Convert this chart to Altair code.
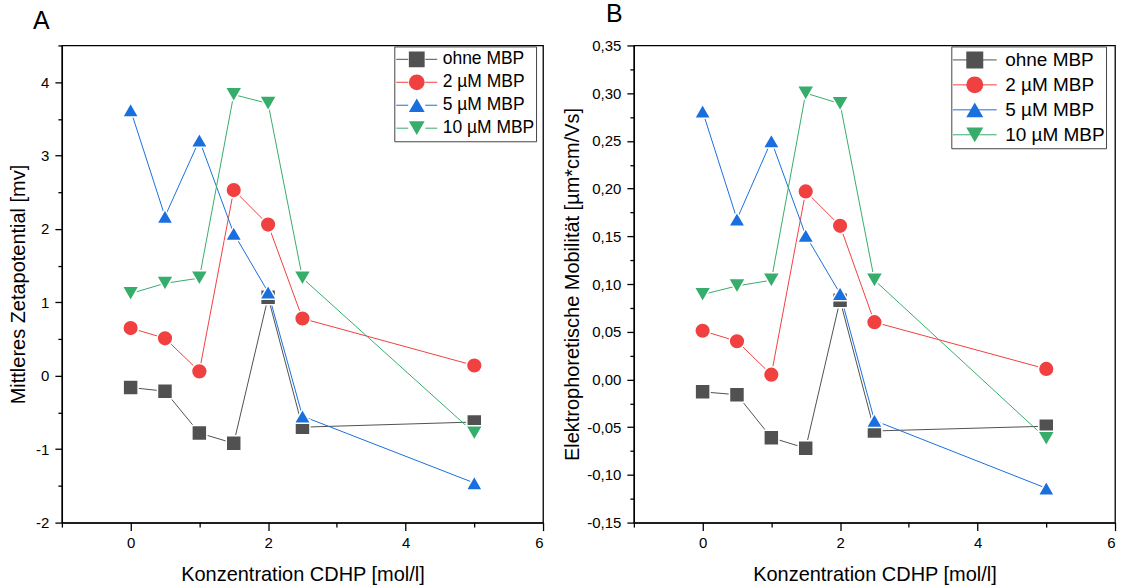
import altair as alt
import pandas as pd

# ---------------- data ----------------
conc = [0, 0.5, 1, 1.5, 2, 2.5, 5]
series = ["ohne MBP", "\u00a02 µM MBP", "\u00a05 µM MBP", "10 µM MBP"]
colors = ["#515151", "#F14040", "#1A6FDF", "#37AD6B"]
shapes = ["square", "circle", "triangle-up", "triangle-down"]
marker_sizes = [225, 289, 330, 370]

# Panel A: Mittleres Zetapotential [mv]
zeta_ohne = [-0.16, -0.21, -0.78, -0.92, 1.07, -0.70, -0.63]
zeta_2 = [0.65, 0.51, 0.06, 2.53, 2.06, 0.78, 0.14]
zeta_5 = [3.62, 2.17, 3.21, 1.94, 1.14, -0.55, -1.46]
zeta_10 = [1.12, 1.26, 1.33, 3.83, 3.71, 1.33, -0.78]

# Panel B: Elektrophoretische Mobilität [µm*cm/Vs]
mob_ohne = [-0.013, -0.016, -0.061, -0.072, 0.083, -0.054, -0.049]
mob_2 = [0.051, 0.040, 0.005, 0.197, 0.161, 0.060, 0.011]
mob_5 = [0.281, 0.168, 0.250, 0.151, 0.090, -0.043, -0.114]
mob_10 = [0.089, 0.098, 0.104, 0.300, 0.289, 0.104, -0.062]

x_major_ticks = [0, 2, 4, 6]
x_minor_ticks = [-1, 1, 3, 5]
zeta_major = [-2, -1, 0, 1, 2, 3, 4]
zeta_minor = [-1.5, -0.5, 0.5, 1.5, 2.5, 3.5, 4.5]
mob_major = [-0.15, -0.10, -0.05, 0.0, 0.05, 0.10, 0.15, 0.20, 0.25, 0.30, 0.35]
mob_minor = [-0.125, -0.075, -0.025, 0.025, 0.075, 0.125, 0.175, 0.225, 0.275, 0.325]

FONT = "Liberation Sans"
MINUS = "\u2212"


def make_df(vals_list):
    rows = []
    for i, (name, vals) in enumerate(zip(series, vals_list)):
        for x, v in zip(conc, vals):
            rows.append({"conc": x, "value": v, "series": name, "key": name,
                         "skey": name, "order": i})
    return pd.DataFrame(rows)


def panel(df, letter, letter_dx, y_domain, y_major, y_minor, y_title, y_label_expr,
          y_title_pad, leg):
    xs = alt.Scale(domain=[-1, 6], nice=False, zero=False)
    ys = alt.Scale(domain=y_domain, nice=False, zero=False)
    sort_s = alt.EncodingSortField(field="order", op="min")

    x_axis = alt.Axis(orient="bottom", values=x_major_ticks, tickSize=8, labelPadding=5,
                      title="Konzentration CDHP [mol/l]", titlePadding=14, grid=False)
    y_axis = alt.Axis(orient="left", values=y_major, tickSize=7, labelPadding=6,
                      labelExpr=y_label_expr, title=y_title, titlePadding=y_title_pad,
                      grid=False)
    x_minor_axis = alt.Axis(orient="bottom", values=x_minor_ticks, tickSize=4.5,
                            labels=False, domain=False, title=None, grid=False)
    y_minor_axis = alt.Axis(orient="left", values=y_minor, tickSize=4,
                            labels=False, domain=False, title=None, grid=False)

    stroke_legend = alt.Legend(
        title=None, orient="none", legendX=leg["x"], legendY=leg["y"],
        symbolType="stroke", symbolSize=leg["line"] ** 2, symbolStrokeWidth=1,
        symbolDash=leg["dash"], clipHeight=leg["row"], rowPadding=0,
        padding=leg["pad"], strokeColor="#444444",
        labelFontSize=leg["font"], labelFont=FONT, labelColor="black",
        labelOffset=leg["label_off"], labelLimit=300,
    )
    shape_legend = alt.Legend(
        title=None, orient="none", legendX=leg["x"], legendY=leg["y"],
        symbolSize=leg["sym"], symbolStrokeColor="white", symbolStrokeWidth=1.5,
        symbolOpacity=1, clipHeight=leg["row"], rowPadding=0, padding=leg["pad"],
        symbolOffset=leg["sym_off"],
        labelFontSize=leg["font"], labelFont=FONT, labelExpr="''",
        labelOffset=leg["label_off"],
    )

    lines = alt.Chart(df).mark_line(strokeWidth=1).encode(
        x=alt.X("conc:Q", scale=xs, axis=x_axis),
        y=alt.Y("value:Q", scale=ys, axis=y_axis),
        stroke=alt.Stroke("series:N", sort=sort_s, scale=alt.Scale(range=colors),
                          legend=stroke_legend),
        order=alt.Order("conc:Q"),
    )
    pts = alt.Chart(df).mark_point(filled=True, opacity=1, stroke="white",
                                   strokeWidth=1.5).encode(
        x=alt.X("conc:Q", scale=xs, axis=x_minor_axis),
        y=alt.Y("value:Q", scale=ys, axis=y_minor_axis),
        fill=alt.Fill("key:N", sort=sort_s, scale=alt.Scale(range=colors),
                      legend=shape_legend),
        shape=alt.Shape("key:N", sort=sort_s, scale=alt.Scale(range=shapes),
                        legend=shape_legend),
        size=alt.Size("skey:O", sort=sort_s, scale=alt.Scale(range=marker_sizes),
                      legend=None),
    )
    return alt.layer(lines, pts).resolve_axis(x="independent", y="independent").properties(
        width=482, height=478,
        title=alt.TitleParams(letter, anchor="start", frame="group", dx=letter_dx,
                              fontSize=25, font=FONT, fontWeight="normal", color="black",
                              offset=11),
    )


df_a = make_df([zeta_ohne, zeta_2, zeta_5, zeta_10])
df_b = make_df([mob_ohne, mob_2, mob_5, mob_10])

leg_a = {"x": 333, "y": 1, "line": 41, "dash": [12, 17], "row": 22.8, "pad": 1.5,
         "font": 17.5, "label_off": 5, "sym": 250, "sym_off": 12}
leg_b = {"x": 318, "y": 1, "line": 44, "dash": [44, 0.01], "row": 25, "pad": 1,
         "font": 19, "label_off": 8, "sym": 289, "sym_off": 13}

expr_a = f"replace(format(datum.value, 'd'), '{MINUS}', '-')"
expr_b = f"replace(replace(format(datum.value, '.2f'), '.', ','), '{MINUS}', '-')"

left = panel(df_a, "A", -29, [-2, 4.5], zeta_major, zeta_minor,
             "Mittleres Zetapotential [mv]", expr_a, 7, leg_a)
right = panel(df_b, "B", -28, [-0.15, 0.35], mob_major, mob_minor,
              "Elektrophoretische Mobilität [µm*cm/Vs]", expr_b, 4, leg_b)

chart = alt.hconcat(left, right, spacing=91, bounds="flush").resolve_scale(
    stroke="independent", fill="independent", shape="independent", size="independent"
).properties(
    padding={"left": 8, "top": 1, "right": 8, "bottom": 4},
).configure_axis(
    labelFont=FONT, labelFontSize=15, labelColor="black",
    titleFont=FONT, titleFontSize=20, titleFontWeight="normal", titleColor="black",
    domainColor="black", domainWidth=1.3, tickColor="black", tickWidth=1.3,
).configure_view(
    stroke="black", strokeWidth=1.3,
).configure_legend(
    labelFont=FONT,
)

chart.save("out.html", embed_options={"renderer": "svg", "actions": False})
